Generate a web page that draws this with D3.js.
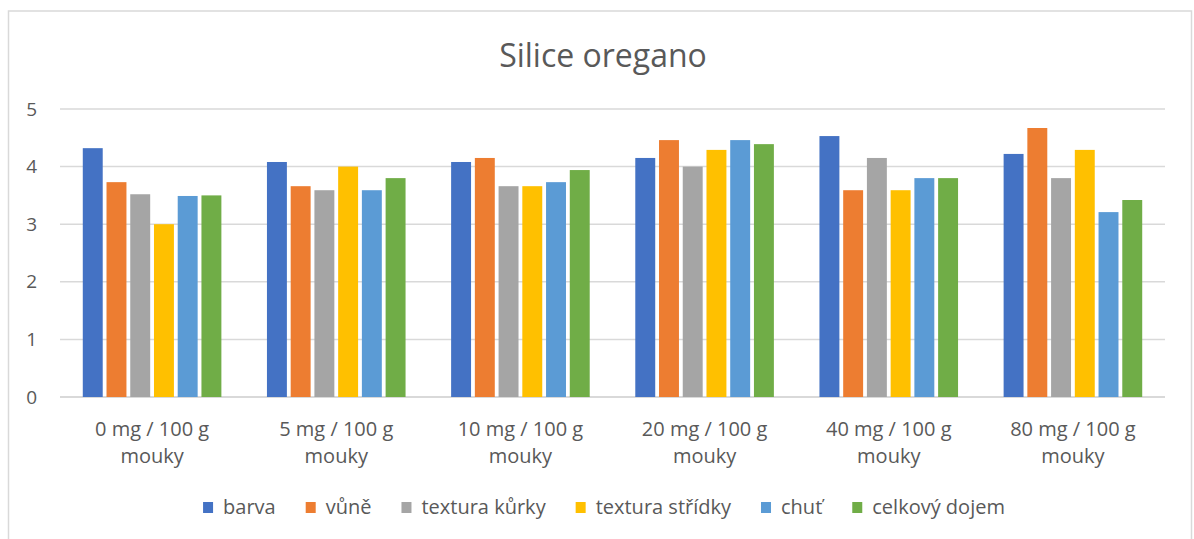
<!DOCTYPE html>
<html>
<head>
<meta charset="utf-8">
<script src="https://cdn.jsdelivr.net/npm/d3@7"></script>
<style>
  html, body { margin: 0; padding: 0; background: #fff; overflow: hidden; }
  svg { display: block; }
  text { font-family: "Open Sans", sans-serif; fill: #595959; }
</style>
</head>
<body>
<div id="chart"></div>
<script>
const width = 1194;
const height = 539;
const margin = { top: 109, right: 29, bottom: 142, left: 60 };
const innerWidth = width - margin.left - margin.right;
const innerHeight = height - margin.top - margin.bottom;

const title = "Silice oregano";
const categories = ["0 mg / 100 g", "5 mg / 100 g", "10 mg / 100 g",
                    "20 mg / 100 g", "40 mg / 100 g", "80 mg / 100 g"];
const categorySecondLine = "mouky";
const seriesNames = ["barva", "vůně", "textura kůrky", "textura střídky", "chuť", "celkový dojem"];
const seriesColors = ["#4472C4", "#ED7D31", "#A5A5A5", "#FFC000", "#5B9BD5", "#70AD47"];
const yTicks = [0, 1, 2, 3, 4, 5];

// one array per series, in category order
const barva = [4.32, 4.08, 4.08, 4.15, 4.53, 4.22];
const vune = [3.73, 3.66, 4.15, 4.46, 3.59, 4.67];
const texturaKurky = [3.52, 3.59, 3.66, 4.00, 4.15, 3.80];
const texturaStridky = [3.00, 4.00, 3.66, 4.29, 3.59, 4.29];
const chut = [3.49, 3.59, 3.73, 4.46, 3.80, 3.21];
const celkovyDojem = [3.50, 3.80, 3.94, 4.39, 3.80, 3.42];
const seriesValues = [barva, vune, texturaKurky, texturaStridky, chut, celkovyDojem];

const svg = d3.select('#chart')
              .append('svg')
              .attr('width', width)
              .attr('height', height);

// chart frame (bottom edge is outside the picture)
svg.append('path')
   .attr('d', 'M8.5,539 V11 H1191.5 V539')
   .attr('fill', 'none')
   .attr('stroke', '#d9d9d9')
   .attr('stroke-width', 1.5);

svg.append('text')
   .attr('x', 603)
   .attr('y', 67)
   .attr('text-anchor', 'middle')
   .style('font-size', '32px')
   .text(title);

const g = svg.append('g')
             .attr('transform', `translate(${margin.left},${margin.top})`);

const x0 = d3.scaleBand()
             .domain(categories)
             .range([0, innerWidth])
             .padding(0);

const x1 = d3.scaleBand()
             .domain(seriesNames)
             .range([0, x0.bandwidth()])
             .paddingInner(0.16)
             .paddingOuter(0.96);

const yScale = d3.scaleLinear()
                 .domain([0, 5])
                 .range([innerHeight, 0]);

// gridlines
g.append('g').selectAll('line')
 .data(yTicks)
 .enter()
 .append('line')
 .attr('x1', 0)
 .attr('x2', innerWidth)
 .attr('y1', d => yScale(d))
 .attr('y2', d => yScale(d))
 .attr('stroke', '#d9d9d9')
 .attr('stroke-width', d => d === 0 ? 2 : 1.5);

const yAxis = d3.axisLeft(yScale).tickValues(yTicks).tickFormat(d3.format('d')).tickSize(0).tickPadding(0);
g.append('g')
 .attr('class', 'yaxis')
 .attr('transform', 'translate(-23,0)')
 .call(yAxis)
 .call(a => a.select('.domain').remove())
 .selectAll('text')
 .style('font-size', '19px')
 .style('font-family', '"Open Sans", sans-serif')
 .attr('fill', '#595959');

// bars
const rows = [];
categories.forEach((c, i) => {
    seriesNames.forEach((s, j) => {
        rows.push({ cat: c, series: s, value: seriesValues[j][i], color: seriesColors[j] });
    });
});

g.append('g').selectAll('rect')
 .data(rows)
 .enter()
 .append('rect')
 .attr('class', 'bar')
 .attr('x', d => x0(d.cat) + x1(d.series))
 .attr('y', d => yScale(d.value))
 .attr('width', x1.bandwidth())
 .attr('height', d => innerHeight - yScale(d.value))
 .attr('fill', d => d.color);

// category labels (two lines)
const xAxis = d3.axisBottom(x0).tickSize(0);
const xg = g.append('g')
            .attr('class', 'xaxis')
            .attr('transform', `translate(0,${innerHeight})`)
            .call(xAxis);
xg.select('.domain').remove();
xg.selectAll('.tick text').remove();
xg.selectAll('.tick').each(function(d) {
    const t = d3.select(this).append('text')
                .attr('text-anchor', 'middle')
                .style('font-size', '20px')
                .attr('fill', '#595959');
    [d, categorySecondLine].forEach((p, k) => {
        t.append('tspan').attr('x', 0).attr('y', 39 + k * 27).text(p);
    });
});

// legend
const legend = svg.append('g').attr('class', 'legend');
let lx = 0;
seriesNames.forEach((s, j) => {
    const item = legend.append('g').attr('transform', `translate(${lx},0)`);
    item.append('rect')
        .attr('x', 0).attr('y', -12)
        .attr('width', 10).attr('height', 11)
        .attr('fill', seriesColors[j]);
    const t = item.append('text')
        .attr('x', 20).attr('y', 0)
        .style('font-size', '20px')
        .text(s);
    lx += 20 + t.node().getComputedTextLength() + 30;
});
lx -= 30;
legend.attr('transform', `translate(${604 - lx / 2},${514})`);
</script>
</body>
</html>
